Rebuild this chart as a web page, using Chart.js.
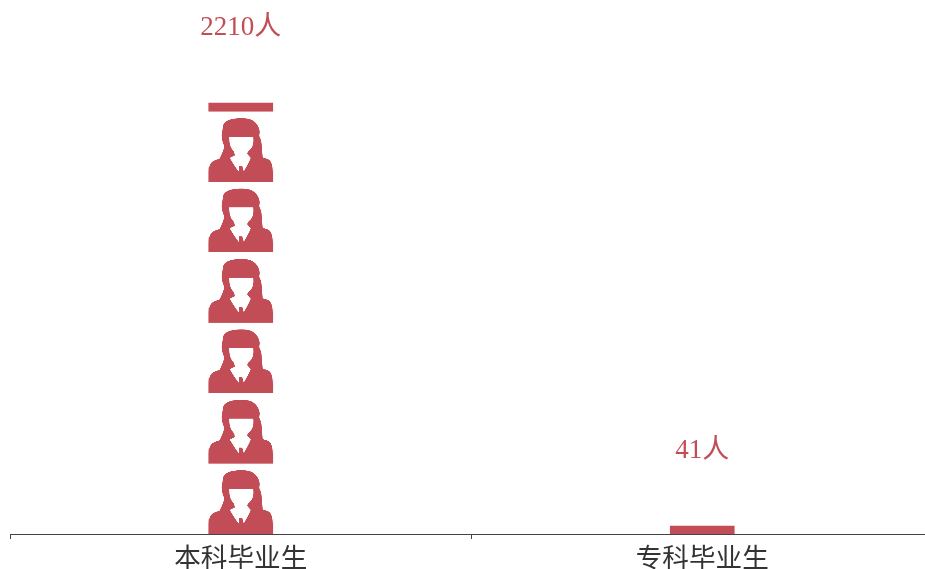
<!DOCTYPE html>
<html><head><meta charset="utf-8">
<script src="https://cdn.jsdelivr.net/npm/chart.js@4/dist/chart.umd.min.js"></script>
<style>html,body{margin:0;padding:0;background:#fff;overflow:hidden;width:925px;height:569px}
#w{position:absolute;left:0;top:0;width:940px;height:569px}</style></head>
<body><div id="w"><canvas id="c" width="940" height="569"></canvas></div>
<script>
const categories = ['本科毕业生','专科毕业生'];
const graduates = [2210, 41];
const unit = '人';
const iconPeriodValue = 361;
const barColor = '#C24D57';
const fontStack = '"Liberation Serif","Noto Sans CJK SC",serif';

const hair = new Path2D('M14.5 7C16 3 21 1 27 0.5C33 0 40 0 44 2.5C48 5 50.5 9 51 14L50.5 18C52.5 22 53 25 53 29L54 39.5C57 40.5 60 41 61.5 43C63.5 46 64 50 64 55L64 64L0 64L0 54C0 49 1.5 45 4 43.5C6 42 9 41.5 11 40.5C13 36 15 32 15.5 28C14 25 12.5 20 13 16C13.5 13 14 10 14.5 7Z');
const face = new Path2D('M20.5 19L44.5 19C45 24 44.5 28 42 31C40 33 38.5 34 38.5 36L42 40C40 45 37 50 35 53.5L33.5 48L30.5 48L30 53.5C27 50 24 45 21 40L26 37.5C26 35 25 33 23.5 31.5C21 28 20.5 24 20.5 19Z');

function makePattern(chart, barLeft, baseY, period){
  const k = 4, h = Math.round(period*k), w = 64*k;
  const off = document.createElement('canvas');
  off.width = w; off.height = h;
  const o = off.getContext('2d');
  o.scale(k,k);
  o.translate(0, period-64);
  o.fillStyle = barColor;
  o.fill(hair);
  o.fillStyle = '#fff';
  o.fill(face);
  const p = chart.ctx.createPattern(off,'repeat');
  p.setTransform(new DOMMatrix([1/k,0,0,period/h,barLeft,baseY]));
  return p;
}

const labelPlugin = {
  id:'valueLabels',
  afterDatasetsDraw(chart){
    const ctx = chart.ctx, meta = chart.getDatasetMeta(0);
    ctx.save();
    ctx.font = '27px '+fontStack;
    ctx.fillStyle = barColor;
    ctx.textAlign = 'center';
    ctx.textBaseline = 'middle';
    meta.data.forEach((el,i)=>ctx.fillText(graduates[i]+unit, el.x, el.y-75));
    ctx.restore();
  }
};

new Chart(document.getElementById('c'),{
  type:'bar',
  data:{labels:categories,datasets:[{
    data:graduates,
    barThickness:64,
    borderWidth:0,
    backgroundColor(ctx){
      const chart = ctx.chart, x = chart.scales.x, y = chart.scales.y;
      if(!x||!y||ctx.dataIndex===undefined) return barColor;
      const base = y.getPixelForValue(0);
      const period = base - y.getPixelForValue(iconPeriodValue);
      if(!(period>10)) return barColor;
      return makePattern(chart, x.getPixelForValue(ctx.dataIndex)-32, base, period);
    }
  }]},
  plugins:[labelPlugin],
  options:{
    responsive:false,animation:false,
    layout:{padding:{left:10,right:7,top:0,bottom:0}},
    plugins:{legend:{display:false},tooltip:{enabled:false}},
    scales:{
      x:{
        afterFit(s){s.height=35;},
        grid:{drawOnChartArea:false,offset:true,tickLength:5,color:'#444',tickWidth:1},
        border:{color:'#444',width:1},
        ticks:{color:'#333',font:{size:26.6,family:fontStack},padding:5,maxRotation:0}
      },
      y:{display:false,min:0,max:2738}
    }
  }
});
</script></body></html>
